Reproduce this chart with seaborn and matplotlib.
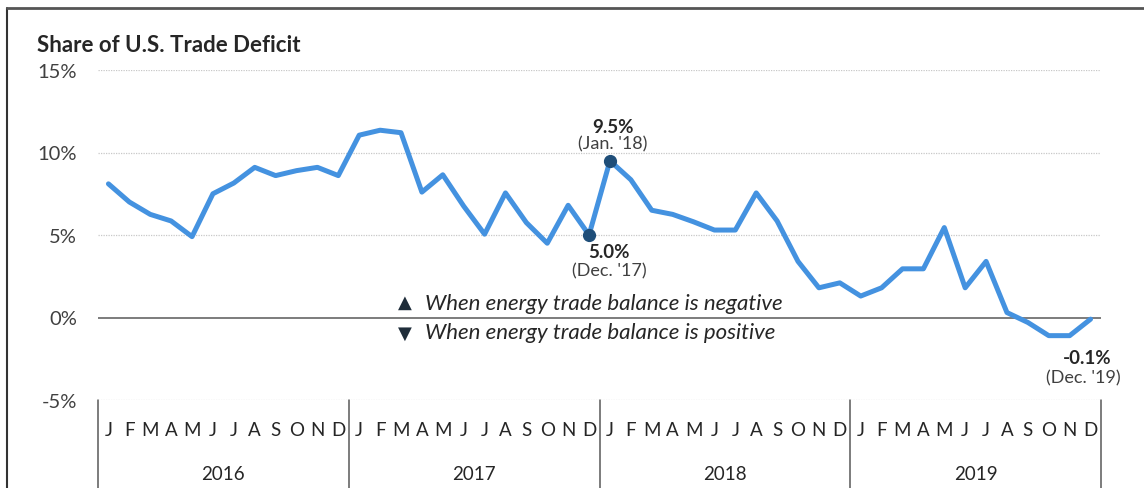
"""
Share of U.S. Trade Deficit, monthly 2016-2019
"""
import numpy as np
import pandas as pd
import matplotlib.pyplot as plt
import matplotlib.transforms as mtransforms
import seaborn as sns

# ============ data ============
years = ['2016', '2017', '2018', '2019']
month_letters = ['J', 'F', 'M', 'A', 'M', 'J', 'J', 'A', 'S', 'O', 'N', 'D']
share_2016 = [8.1, 7.0, 6.25, 5.85, 4.9, 7.5, 8.15, 9.1, 8.6, 8.9, 9.1, 8.6]
share_2017 = [11.05, 11.35, 11.2, 7.6, 8.65, 6.75, 5.05, 7.55, 5.75, 4.5, 6.8, 5.0]
share_2018 = [9.5, 8.35, 6.5, 6.25, 5.8, 5.3, 5.3, 7.55, 5.85, 3.4, 1.8, 2.1]
share_2019 = [1.3, 1.8, 2.95, 2.95, 5.45, 1.8, 3.4, 0.3, -0.3, -1.1, -1.1, -0.1]
y_ticks = [-5, 0, 5, 10, 15]
highlights = {   # index -> (value label, date label)
    23: ('5.0%', "(Dec. '17)"),
    24: ('9.5%', "(Jan. '18)"),
    47: ('-0.1%', "(Dec. '19)"),
}
# ==============================

LINE_C = '#4492E0'
DOT_C = '#1F4E79'
TXT_C = '#262626'

sns.set_style('white')
plt.rcParams['font.family'] = ['Lato', 'DejaVu Sans']

values = share_2016 + share_2017 + share_2018 + share_2019
df = pd.DataFrame({'idx': np.arange(len(values)), 'share': values})

fig = plt.figure(figsize=(11.44, 4.89), dpi=100)
ax = fig.add_axes([98 / 1144, 1 - 401 / 489, 1003 / 1144, 330 / 489])

sns.lineplot(data=df, x='idx', y='share', color=LINE_C, linewidth=3.6, ax=ax)

# highlighted points
hl = df.loc[[23, 24]]
ax.plot(hl['idx'], hl['share'], 'o', color=DOT_C, markersize=8.5, zorder=5)

ax.set_xlim(-0.5, len(values) - 0.5)
ax.set_ylim(-5, 15)
for s in ax.spines.values():
    s.set_visible(False)

# grid
for yv in y_ticks:
    if yv == 0:
        ax.axhline(0, color='#595959', lw=1.1, zorder=1)
    else:
        ax.axhline(yv, color='#c8c8c8', lw=0.9, ls=(0, (1, 1)), zorder=1)

ax.set_yticks(y_ticks)
ax.set_yticklabels([f'{v}%' for v in y_ticks], fontsize=14.5, color='#404040')
ax.set_xticks(df['idx'])
ax.set_xticklabels(month_letters * len(years), fontsize=13.5, color=TXT_C)
ax.tick_params(axis='both', length=0)
ax.tick_params(axis='y', pad=15)
ax.tick_params(axis='x', pad=15)
ax.set_xlabel('')
ax.set_ylabel('')

# year separators and labels
trans = mtransforms.blended_transform_factory(ax.transData, ax.transAxes)
for i in range(len(years) + 1):
    ax.plot([i * 12 - 0.5] * 2, [0, -0.27], color='#595959', lw=1.1,
            transform=trans, clip_on=False)
for i, yr in enumerate(years):
    ax.text(i * 12 + 5.5, -0.222, yr, transform=trans, ha='center', va='center',
            fontsize=13.5, color=TXT_C)

# annotations
ax.text(24.15, 11.6, highlights[24][0], ha='center', va='center', fontsize=13.5,
        fontweight='bold', color=TXT_C)
ax.text(24.15, 10.55, highlights[24][1], ha='center', va='center', fontsize=13,
        color='#404040')
ax.text(23.95, 4.0, highlights[23][0], ha='center', va='center', fontsize=13.5,
        fontweight='bold', color=TXT_C)
ax.text(23.95, 2.85, highlights[23][1], ha='center', va='center', fontsize=13,
        color='#404040')
ax.text(46.85, -2.45, highlights[47][0], ha='center', va='center', fontsize=13.5,
        fontweight='bold', color=TXT_C)
ax.text(46.65, -3.65, highlights[47][1], ha='center', va='center', fontsize=13,
        color='#404040')

# marker key
ax.text(14.2, 0.95, '▲', ha='center', va='center', fontsize=13, color='#1f2d3a',
        family=['DejaVu Sans'])
ax.text(15.15, 0.85, 'When energy trade balance is negative', ha='left', va='center',
        fontsize=16, style='italic', color=TXT_C)
ax.text(14.2, -0.9, '▼', ha='center', va='center', fontsize=13, color='#1f2d3a',
        family=['DejaVu Sans'])
ax.text(15.15, -0.85, 'When energy trade balance is positive', ha='left', va='center',
        fontsize=16, style='italic', color=TXT_C)

# title
fig.text(37 / 1144, 1 - 45 / 489, 'Share of U.S. Trade Deficit', ha='left', va='center',
         fontsize=16, fontweight='bold', color=TXT_C)

# outer frame (left and top edges)
fig.add_artist(plt.Line2D([7 / 1144, 7 / 1144], [0, 1 - 9 / 489], color='#333333',
                          lw=1.5, transform=fig.transFigure))
fig.add_artist(plt.Line2D([7 / 1144, 1], [1 - 9 / 489, 1 - 9 / 489], color='#555555',
                          lw=2.0, transform=fig.transFigure))

fig.savefig('out.png', dpi=100)
